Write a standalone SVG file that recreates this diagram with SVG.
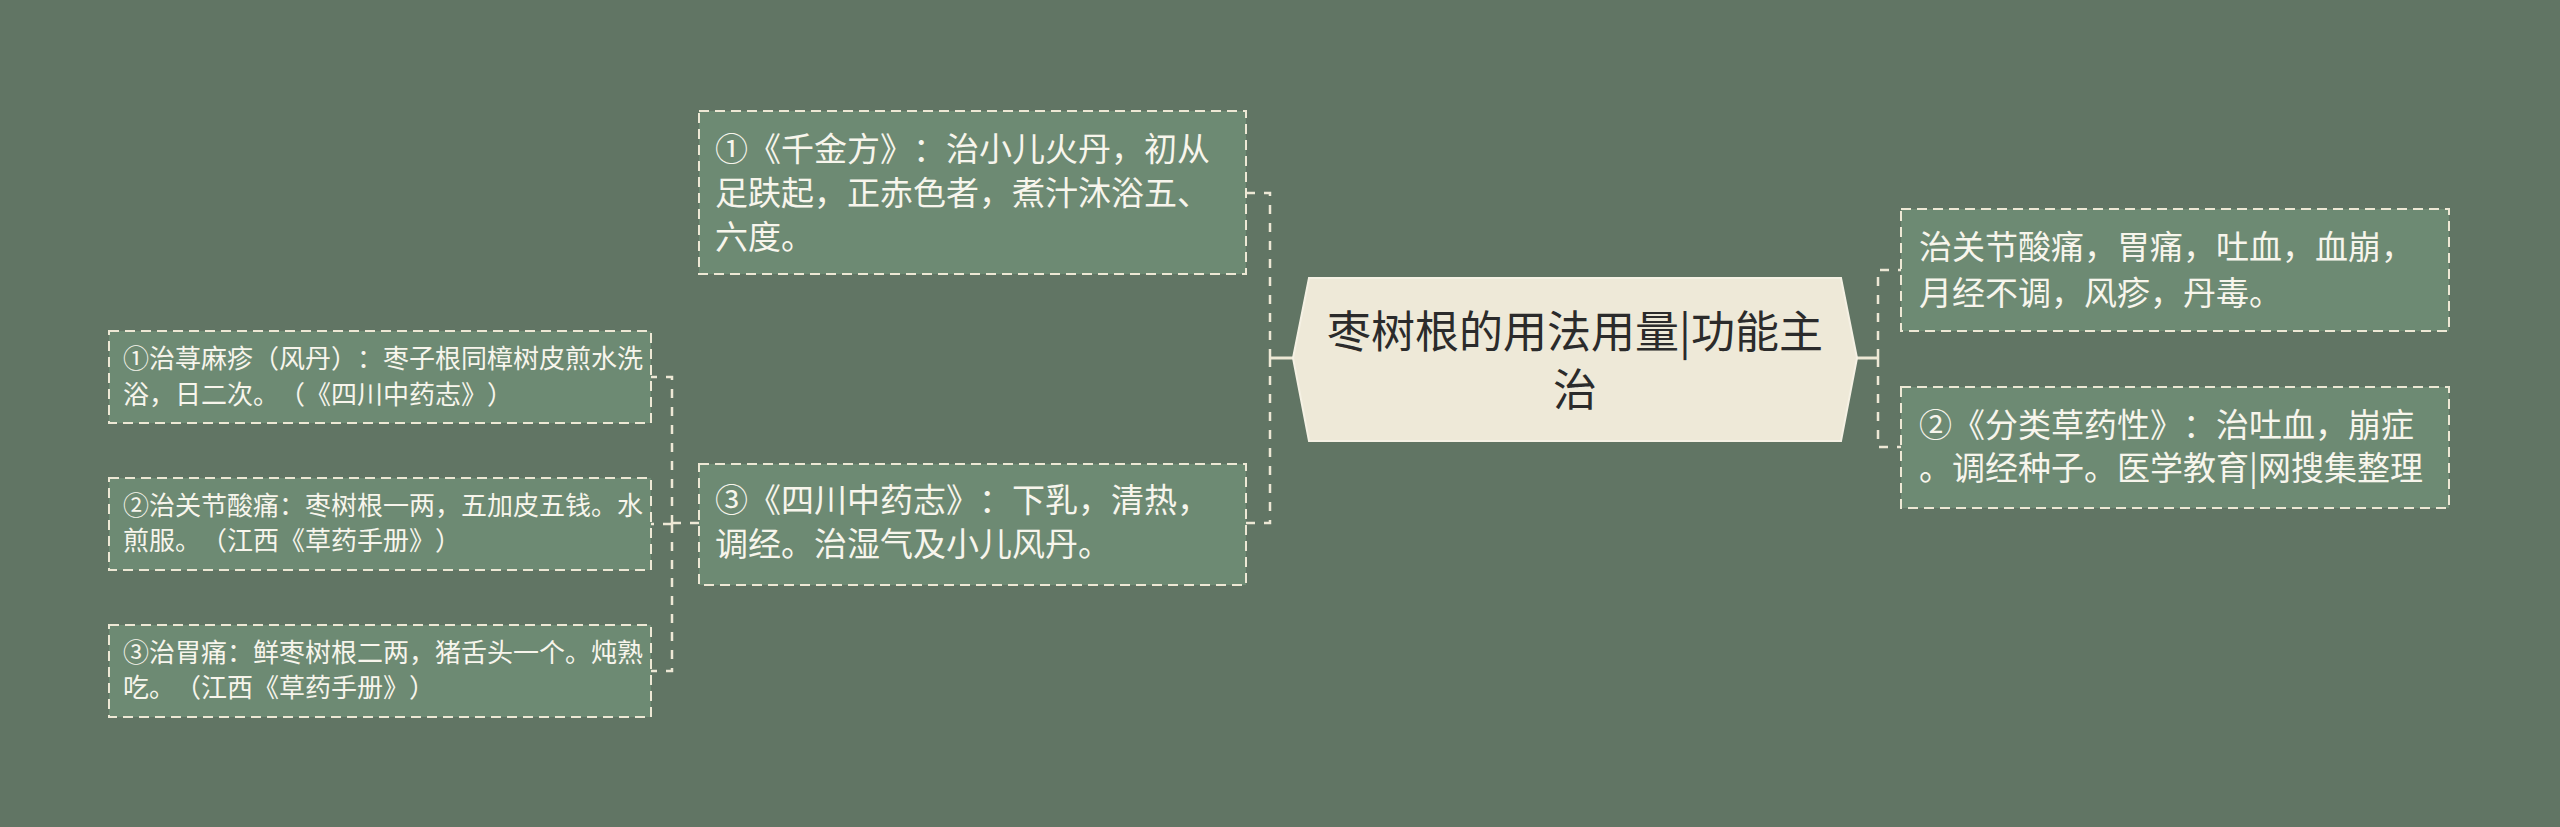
<svg xmlns="http://www.w3.org/2000/svg" width="2560" height="827" viewBox="0 0 2560 827">
<style>
.bg{fill:#617564}
.box{fill:#6D8A73;stroke:#EDE8D5;stroke-width:2;stroke-dasharray:10 6}
text{text-spacing-trim:space-all}
.t{font-family:"Noto Sans CJK SC","Noto Sans",sans-serif;fill:#F7F5EC}
.m{font-size:33px}
.s{font-size:26px}
.c{font-family:"Noto Sans CJK SC","Noto Sans",sans-serif;fill:#2B2B2B;font-size:44px;text-anchor:middle}
.ln{fill:none;stroke:#EDE8D5;stroke-width:2.5;stroke-dasharray:9 9}
.sl{fill:none;stroke:#EDE8D5;stroke-width:3}
</style>
<rect class="bg" x="0" y="0" width="2560" height="827"/>
<g id="connectors">
<path class="sl" d="M1293 358 H1270"/>
<path class="ln" d="M1270 358 V193 H1246 M1270 358 V523 H1246"/>
<path class="sl" d="M1857 358 H1878"/>
<path class="ln" d="M1878 358 V270 H1901 M1878 358 V447 H1901"/>
<path class="ln" d="M699 523 H672 M672 524 V377 H651 M672 524 V671 H651 M672 524 H651"/>
</g>
<g id="center">
<polygon points="1309,278 1841,278 1857,358 1841,441 1309,441 1293,358" fill="#EEE9D8" stroke="#F5F1E4" stroke-width="2"/>
<text class="c" x="1575" y="348">枣树根的用法用量|功能主</text>
<text class="c" x="1575" y="406">治</text>
</g>
<g id="n1">
<rect class="box" x="699" y="111" width="547" height="163"/>
<text class="t m" x="715" y="161">①《千金方》：治小儿火丹，初从</text>
<text class="t m" x="715" y="205">足趺起，正赤色者，煮汁沐浴五、</text>
<text class="t m" x="715" y="249">六度。</text>
</g>
<g id="n2">
<rect class="box" x="699" y="464" width="547" height="121"/>
<text class="t m" x="715" y="512">③《四川中药志》：下乳，清热，</text>
<text class="t m" x="715" y="556">调经。治湿气及小儿风丹。</text>
</g>
<g id="r1">
<rect class="box" x="1901" y="209" width="548" height="122"/>
<text class="t m" x="1919" y="259">治关节酸痛，胃痛，吐血，血崩，</text>
<text class="t m" x="1919" y="305">月经不调，风疹，丹毒。</text>
</g>
<g id="r2">
<rect class="box" x="1901" y="387" width="548" height="121"/>
<text class="t m" x="1919" y="437">②《分类草药性》：治吐血，崩症</text>
<text class="t m" x="1919" y="480">。调经种子。医学教育|网搜集整理</text>
</g>
<g id="l1">
<rect class="box" x="109" y="331" width="542" height="92"/>
<text class="t s" x="123" y="368">①治荨麻疹（风丹）：枣子根同樟树皮煎水洗</text>
<text class="t s" x="123" y="404">浴，日二次。（《四川中药志》）</text>
</g>
<g id="l2">
<rect class="box" x="109" y="478" width="542" height="92"/>
<text class="t s" x="123" y="515">②治关节酸痛：枣树根一两，五加皮五钱。水</text>
<text class="t s" x="123" y="550">煎服。（江西《草药手册》）</text>
</g>
<g id="l3">
<rect class="box" x="109" y="625" width="542" height="92"/>
<text class="t s" x="123" y="662">③治胃痛：鲜枣树根二两，猪舌头一个。炖熟</text>
<text class="t s" x="123" y="697">吃。（江西《草药手册》）</text>
</g>
</svg>
